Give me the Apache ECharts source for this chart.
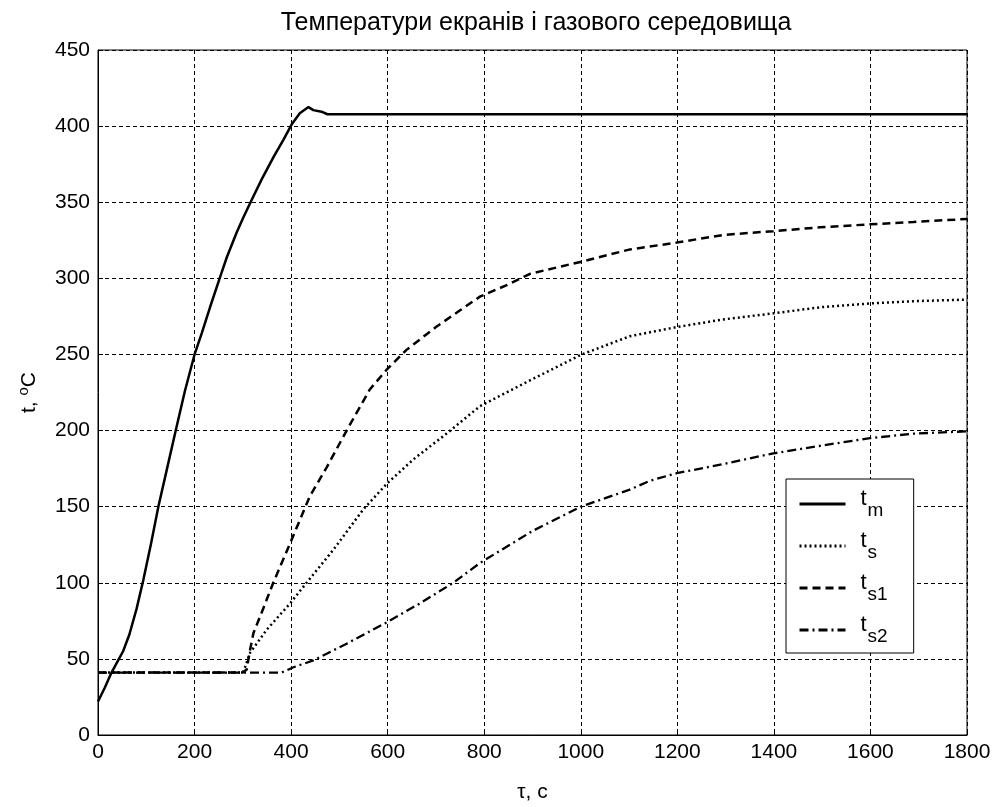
<!DOCTYPE html>
<html>
<head>
<meta charset="utf-8">
<script src="https://cdn.jsdelivr.net/npm/echarts@6/dist/echarts.min.js"></script>
<style>
  html, body { margin: 0; padding: 0; background: #fff; }
  #chart { width: 999px; height: 807px; }
</style>
</head>
<body>
<div id="chart"></div>
<script>
// Temperature of the heated medium and of the three screens (°C) over time (s)
const tmTime = [0, 14, 28, 40, 52, 65, 80, 94, 110, 125, 143, 161, 180, 200, 215, 232, 253, 267, 287, 301, 316, 339, 364, 384, 401, 418, 436, 446, 463, 475, 1800];
const tmTemp = [22, 31, 41, 48, 55, 66, 83, 102, 126, 150, 175, 200, 226, 250, 264, 281, 301, 314, 330, 340, 350, 365, 380, 391, 401, 408.5, 412.5, 410.5, 409.5, 407.8, 407.8];

const tsTime = [0, 300, 305, 315, 349, 398, 432, 487, 549, 598, 653, 722, 791, 895, 1002, 1102, 1199, 1295, 1399, 1496, 1599, 1689, 1800];
const tsTemp = [41, 41, 45, 54, 69, 86.5, 100, 121.5, 148, 165, 181, 198, 216, 233, 250, 262, 268, 273, 277, 281, 283.5, 285, 286];

const ts1Time = [0, 300, 308, 315, 322, 336, 363, 398, 439, 474, 515, 563, 598, 639, 700, 750, 791, 850, 895, 1002, 1102, 1199, 1295, 1399, 1496, 1599, 1689, 1800];
const ts1Temp = [41, 41, 43, 56, 67, 78, 100, 126, 157, 176, 200, 227, 240, 253, 268, 279, 288, 296, 303, 311, 319, 323.5, 328.5, 331, 333.5, 335.5, 337, 339];

const ts2Time = [0, 380, 405, 446, 515, 598, 667, 736, 791, 900, 1000, 1100, 1143, 1199, 1295, 1399, 1496, 1599, 1689, 1800];
const ts2Temp = [41, 41, 44.5, 49, 60, 74, 86.5, 100, 113, 134, 150, 161, 167, 172, 178, 185, 190, 195, 198, 199.5];

const seriesNames = ['tm', 'ts', 'ts1', 'ts2'];
const subscripts = { tm: 'm', ts: 's', ts1: 's1', ts2: 's2' };

const titleText = 'Температури екранів і газового середовища';
const xName = 'τ, с';

const pairs = (xs, ys) => xs.map((x, i) => [x, ys[i]]);

const FONT = '"Liberation Sans", Arial, sans-serif';
const TICK_SIZE = 21;

const chart = echarts.init(document.getElementById('chart'), null, { renderer: 'canvas' });

const gridLine = { show: true, lineStyle: { color: '#000', width: 1, type: [4, 3] } };
const tickIn = { show: true, inside: true, length: 5, lineStyle: { color: '#000', width: 1 } };

function lineSeries(name, data, type, width) {
  return {
    name, type: 'line', data,
    symbol: 'none', smooth: false, animation: false,
    lineStyle: { color: '#000', width, type },
    itemStyle: { color: '#000' },
    z: 3
  };
}

chart.setOption({
  backgroundColor: '#fff',
  animation: false,
  title: {
    text: titleText,
    left: 531, top: 6, textAlign: 'center',
    textStyle: { fontFamily: FONT, fontSize: 25, fontWeight: 'normal', color: '#000' }
  },
  grid: {
    left: 98, top: 50, right: 32, bottom: 72,
    containLabel: false, outerBoundsMode: 'none',
    show: true, borderColor: '#000', borderWidth: 1, backgroundColor: 'transparent'
  },
  xAxis: {
    type: 'value', min: 0, max: 1800, interval: 200,
    name: xName, nameLocation: 'middle', nameGap: 47,
    nameTextStyle: { fontFamily: FONT, fontSize: TICK_SIZE, color: '#000' },
    axisLine: { show: true, lineStyle: { color: '#000', width: 1 } },
    axisTick: tickIn,
    axisLabel: { margin: 7, fontFamily: FONT, fontSize: TICK_SIZE, color: '#000', formatter: v => String(v) },
    splitLine: gridLine
  },
  yAxis: {
    type: 'value', min: 0, max: 450, interval: 50,
    name: '{a|t, }{sup|o}{a|C}', nameLocation: 'middle', nameGap: 58, nameRotate: 90,
    nameTextStyle: {
      fontFamily: FONT, fontSize: TICK_SIZE, color: '#000',
      rich: {
        a: { fontFamily: FONT, fontSize: TICK_SIZE, color: '#000', lineHeight: 24, verticalAlign: 'bottom' },
        sup: { fontFamily: FONT, fontSize: 15, color: '#000', lineHeight: 24, verticalAlign: 'top', padding: [0, 0, 6, 0] }
      }
    },
    axisLine: { show: true, lineStyle: { color: '#000', width: 1 } },
    axisTick: tickIn,
    axisLabel: { margin: 8, fontFamily: FONT, fontSize: TICK_SIZE, color: '#000', formatter: v => String(v) },
    splitLine: gridLine
  },
  legend: {
    orient: 'vertical',
    left: 786, top: 479,
    data: seriesNames,
    backgroundColor: '#fff',
    borderColor: '#000', borderWidth: 1,
    padding: [9, 26, 7, 12],
    itemWidth: 46, itemHeight: 14, itemGap: 10,
    itemStyle: { opacity: 0 },
    lineStyle: { width: 3 },
    formatter: name => '{b|t}{s|' + subscripts[name] + '}',
    textStyle: {
      color: '#000', fontFamily: FONT, padding: [0, 0, 0, 10],
      rich: {
        b: { fontFamily: FONT, fontSize: 22, color: '#000', lineHeight: 32, verticalAlign: 'top' },
        s: { fontFamily: FONT, fontSize: 19, color: '#000', lineHeight: 32, verticalAlign: 'bottom', padding: [0, 0, 0, 1] }
      }
    }
  },
  series: [
    lineSeries('tm', pairs(tmTime, tmTemp), 'solid', 2.5),
    lineSeries('ts', pairs(tsTime, tsTemp), [2, 3], 2.5),
    lineSeries('ts1', pairs(ts1Time, ts1Temp), [8, 5], 2.5),
    lineSeries('ts2', pairs(ts2Time, ts2Temp), [9, 4, 2, 4], 2.3)
  ]
});
</script>
</body>
</html>
